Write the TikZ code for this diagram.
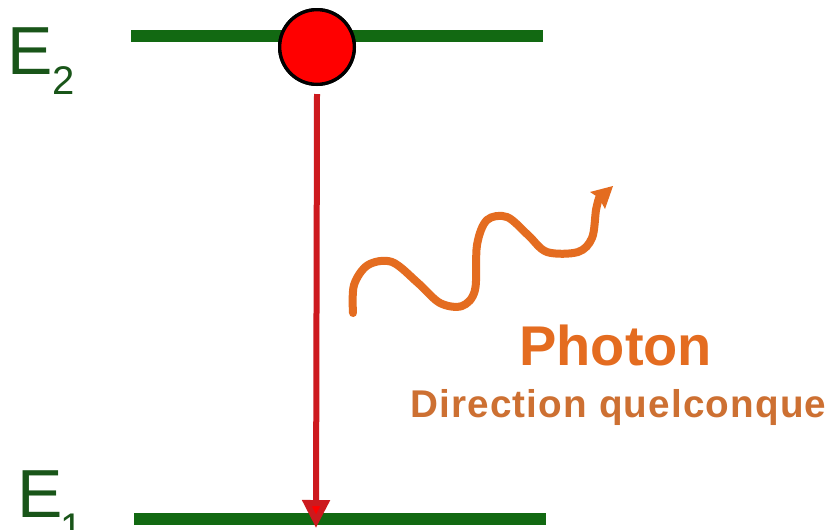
\documentclass[tikz,border=0pt]{standalone}
\usepackage{fontspec}
\setmainfont{Liberation Sans}
\usetikzlibrary{arrows.meta}
\definecolor{lvlgreen}{RGB}{18,105,18}
\definecolor{txtgreen}{RGB}{25,85,25}
\definecolor{photonorange}{RGB}{228,108,32}
\definecolor{dirorange}{RGB}{205,112,50}
\definecolor{arrowred}{RGB}{205,25,30}
\tikzset{
  level/.style={draw=lvlgreen, line width=9pt},
  elabel/.style={anchor=base west, inner sep=0pt, text=txtgreen, font=\fontsize{51}{51}\selectfont},
  esub/.style={anchor=base west, inner sep=0pt, text=txtgreen, font=\fontsize{30}{30}\selectfont},
  electron/.style={circle, fill=red, draw=black, line width=2.5pt, minimum size=56pt, inner sep=0pt},
  wave/.style={draw=photonorange, line width=6pt, line cap=round, line join=round},
}
\begin{document}
\begin{tikzpicture}[x=0.75pt,y=-0.75pt]
\useasboundingbox[fill=white] (0,0) rectangle (827,529);
% energy levels
\coordinate (e2l) at (131,36);
\coordinate (e2r) at (543,36);
\coordinate (e1l) at (134,519);
\coordinate (e1r) at (546,519);
\draw[level] (e2l) -- (e2r);
\draw[level] (e1l) -- (e1r);
% labels
\node[elabel] (E2) at (7,74) {E};
\node[esub] (E2s) at (52,94) {2};
\node[elabel] (E1) at (17,517) {E};
\node[esub] (E1s) at (60,541) {1};
% transition
\coordinate (tip) at (316,528);
\node[electron] (el) at (317,47) {};
\draw[arrowred, line width=4.5pt, -{Triangle[width=20pt,length=21pt,fill=red]}] ([yshift=-6pt]el.south) -- (tip);
\node[electron] at (317,47) {};
% photon wave
\coordinate (wend) at (613,186);
\draw[wave] plot[smooth, tension=0.55] coordinates {(353,313) (354,285) (368,265) (392,262) (418,283) (440,303) (462,306) (475,290) (477,245) (487,220) (507,217) (528,235) (547,252) (578,252) (592,238) (596,210) (599,198)};
\fill[photonorange] (wend) -- (590,192) -- (599,198) -- (605,209) -- cycle;
% text
\node[anchor=base west, inner sep=0pt, text=photonorange, font=\bfseries\fontsize{42}{42}\selectfont] (ph) at (519,365) {Photon};
\node[anchor=base west, inner sep=0pt, text=dirorange, font=\bfseries\fontsize{29}{29}\selectfont\addfontfeature{LetterSpace=3}] (dir) at (410,417) {Direction quelconque};
\end{tikzpicture}
\end{document}
